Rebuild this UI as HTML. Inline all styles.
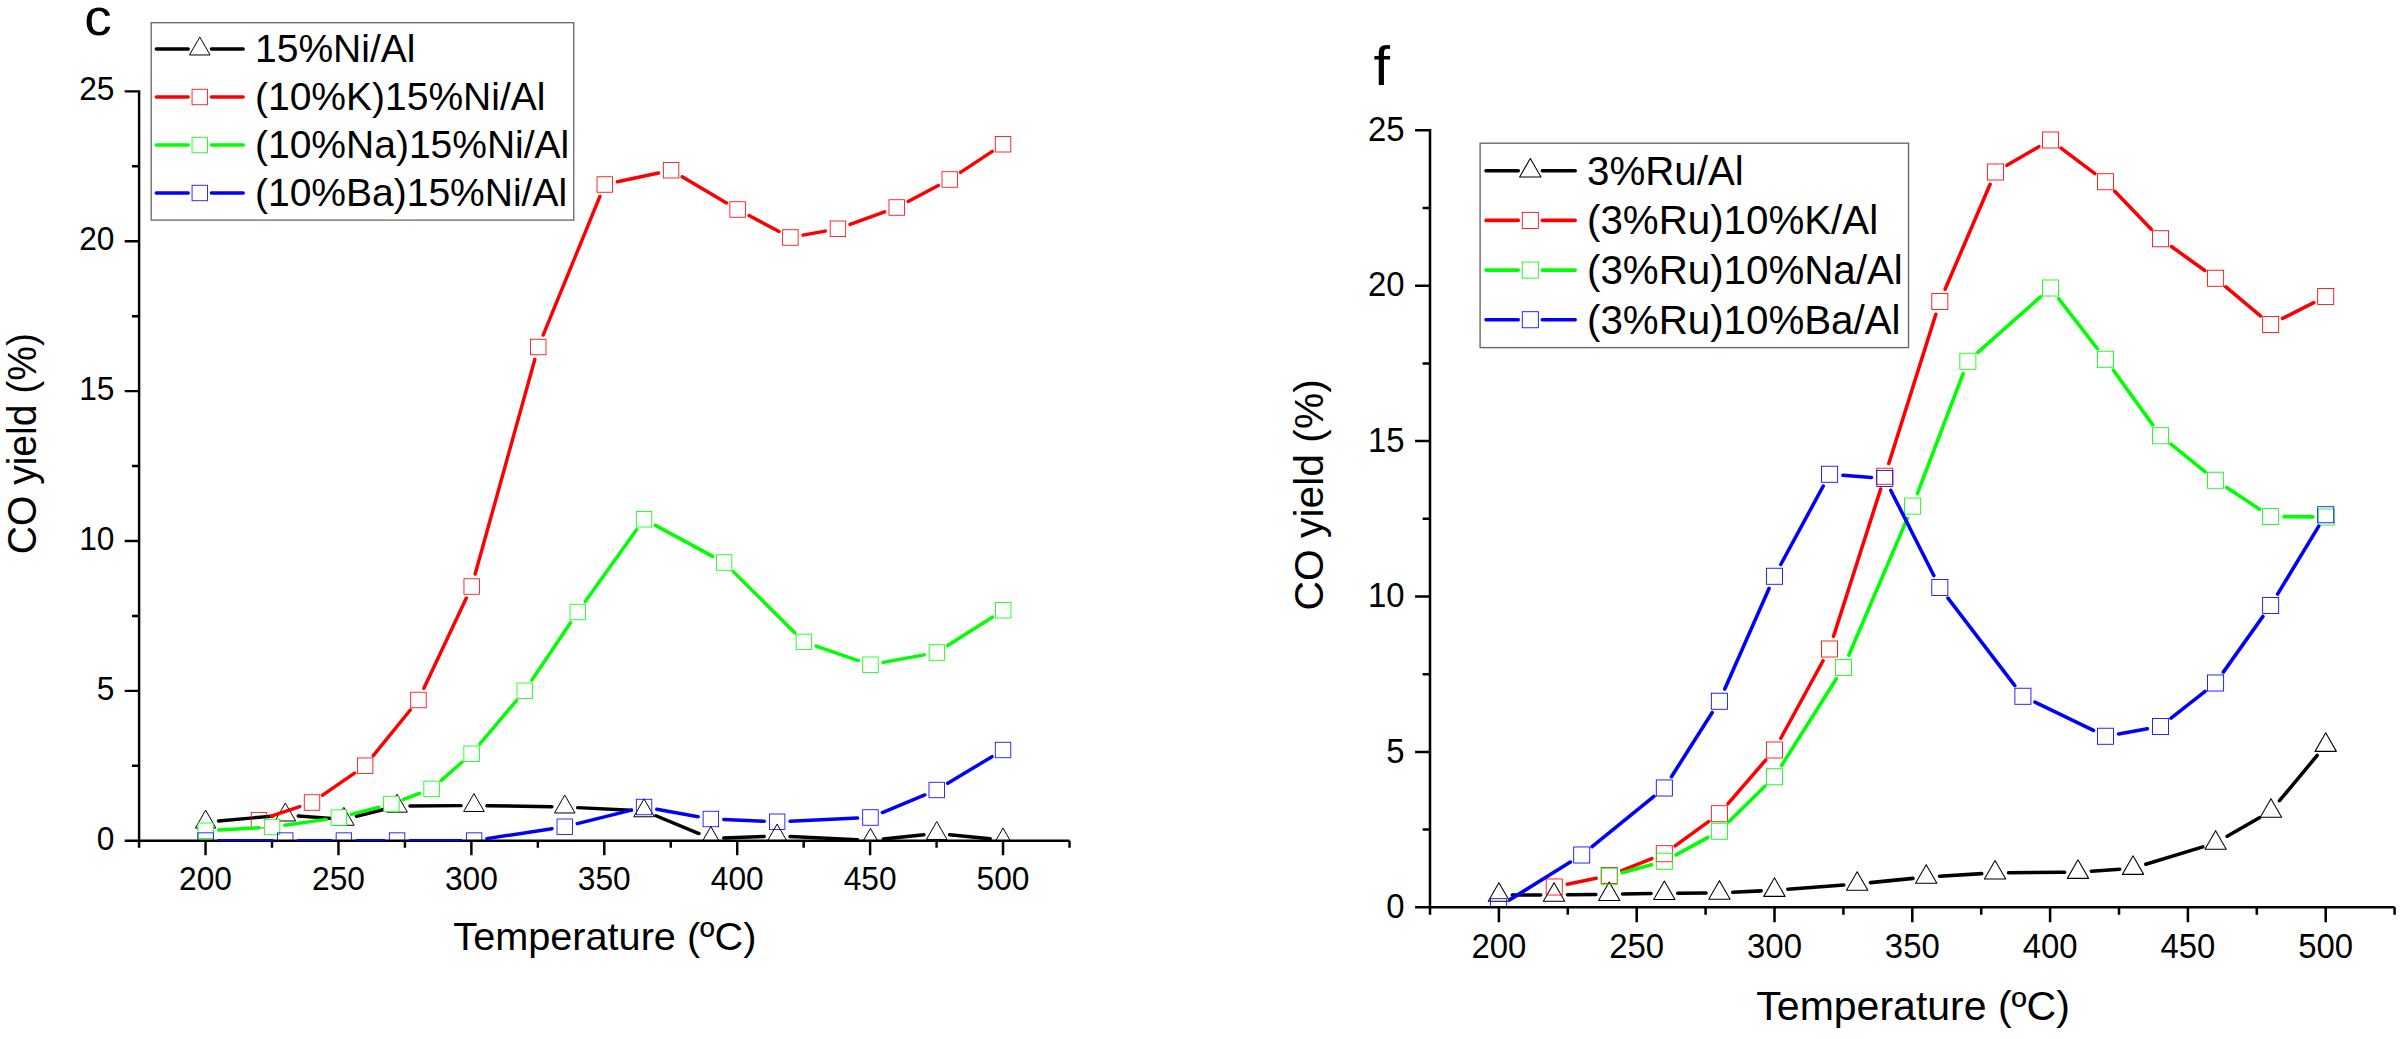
<!DOCTYPE html>
<html lang="en"><head><meta charset="utf-8"><title>CO yield vs temperature</title>
<style>html,body{margin:0;padding:0;background:#fff;}body{width:2402px;height:1039px;overflow:hidden;}svg{display:block;font-family:"Liberation Sans", Arial, sans-serif;}</style></head><body>
<svg width="2402" height="1039" viewBox="0 0 2402 1039">
<rect width="2402" height="1039" fill="#fff"/>
<g id="chartL">
<clipPath id="clipL"><rect x="139.09" y="0" width="970.4" height="841.05"/></clipPath>
<path d="M139.09 90.13V847.85M124.69 840.75H1069.5M124.69 690.87H139.09M124.69 540.99H139.09M124.69 391.11H139.09M124.69 241.23H139.09M124.69 91.35H139.09M131.99 765.81H139.09M131.99 615.93H139.09M131.99 466.05H139.09M131.99 316.17H139.09M131.99 166.29H139.09M205.55 840.75V855.15M338.47 840.75V855.15M471.38 840.75V855.15M604.3 840.75V855.15M737.21 840.75V855.15M870.12 840.75V855.15M1003.04 840.75V855.15M272.01 840.75V847.85M404.92 840.75V847.85M537.84 840.75V847.85M670.75 840.75V847.85M803.67 840.75V847.85M936.58 840.75V847.85M1069.5 840.75V847.85" fill="none" stroke="#000" stroke-width="2.45" stroke-linecap="butt"/>
<g font-size="31.7" fill="#000">
<text transform="translate(205.55 889.7) scale(1 1.05)" text-anchor="middle">200</text>
<text transform="translate(338.47 889.7) scale(1 1.05)" text-anchor="middle">250</text>
<text transform="translate(471.38 889.7) scale(1 1.05)" text-anchor="middle">300</text>
<text transform="translate(604.3 889.7) scale(1 1.05)" text-anchor="middle">350</text>
<text transform="translate(737.21 889.7) scale(1 1.05)" text-anchor="middle">400</text>
<text transform="translate(870.12 889.7) scale(1 1.05)" text-anchor="middle">450</text>
<text transform="translate(1003.04 889.7) scale(1 1.05)" text-anchor="middle">500</text>
<text transform="translate(114.49 849.75) scale(1 1.05)" text-anchor="end">0</text>
<text transform="translate(114.49 699.87) scale(1 1.05)" text-anchor="end">5</text>
<text transform="translate(114.49 549.99) scale(1 1.05)" text-anchor="end">10</text>
<text transform="translate(114.49 400.11) scale(1 1.05)" text-anchor="end">15</text>
<text transform="translate(114.49 250.23) scale(1 1.05)" text-anchor="end">20</text>
<text transform="translate(114.49 100.35) scale(1 1.05)" text-anchor="end">25</text>
</g>
<text x="604.9" y="950.3" font-size="39.65" text-anchor="middle">Temperature (ºC)</text>
<text transform="translate(36 443.6) rotate(-90) scale(0.96 1)" font-size="40.7" text-anchor="middle">CO yield (%)</text>
<text transform="translate(84.3 35.15) scale(1.06 1)" font-size="52">c</text>
<g clip-path="url(#clipL)">
<path d="M218.5 820.96L272.5 816.14M298.21 815.95L331.02 818.35M356.41 816.21L384.54 809.29M409.96 806.08L461.06 805.62M486.86 805.71L551.87 806.79M577.65 807.62L631.18 810.18M655.98 815.74L698.94 833.56M723.74 838.01L764.25 836.49M790.03 836.59L857.56 839.71M883.28 838.98L923.91 834.82M949.58 834.76L990.19 838.74" fill="none" stroke="#000" stroke-width="3.45" stroke-linecap="round"/>
<g><path d="M195.35 828.07L205.65 810.17L215.95 828.07Z" fill="none" stroke="#000" stroke-width="1" stroke-linejoin="round"/><path d="M275.05 820.97L285.35 803.07L295.65 820.97Z" fill="none" stroke="#000" stroke-width="1" stroke-linejoin="round"/><path d="M333.58 825.27L343.88 807.37L354.18 825.27Z" fill="none" stroke="#000" stroke-width="1" stroke-linejoin="round"/><path d="M386.77 812.17L397.07 794.27L407.37 812.17Z" fill="none" stroke="#000" stroke-width="1" stroke-linejoin="round"/><path d="M463.66 811.47L473.96 793.57L484.26 811.47Z" fill="none" stroke="#000" stroke-width="1" stroke-linejoin="round"/><path d="M554.47 812.97L564.77 795.07L575.07 812.97Z" fill="none" stroke="#000" stroke-width="1" stroke-linejoin="round"/><path d="M633.76 816.77L644.06 798.87L654.36 816.77Z" fill="none" stroke="#000" stroke-width="1" stroke-linejoin="round"/><path d="M700.55 844.47L710.85 826.57L721.15 844.47Z" fill="none" stroke="#000" stroke-width="1" stroke-linejoin="round"/><path d="M766.84 841.97L777.14 824.07L787.44 841.97Z" fill="none" stroke="#000" stroke-width="1" stroke-linejoin="round"/><path d="M860.15 846.27L870.45 828.37L880.75 846.27Z" fill="none" stroke="#000" stroke-width="1" stroke-linejoin="round"/><path d="M926.44 839.47L936.74 821.57L947.04 839.47Z" fill="none" stroke="#000" stroke-width="1" stroke-linejoin="round"/><path d="M992.73 845.97L1003.03 828.07L1013.33 845.97Z" fill="none" stroke="#000" stroke-width="1" stroke-linejoin="round"/></g>
<path d="M271.23 816.04L299.77 806.56M322.62 795.15L354.54 773.05M373.27 755.68L410.3 710.02M423.91 688.32L466.23 598.18M475.16 574.07L534.8 359.43M543.14 335.06L599.9 196.44M617.4 181.79L658.47 172.96M682.19 176.8L726.51 202.95M749.02 215.55L779.01 231.45M803.09 235.16L825.24 231.09M850.06 224.36L884.58 211.89M908.12 201.48L938.34 185.52M960.51 172.38L992.27 151.37" fill="none" stroke="#f00" stroke-width="3.45" stroke-linecap="round"/>
<g><rect x="251.23" y="812.35" width="15.5" height="15.5" fill="none" stroke="#f00" stroke-width="0.82"/><rect x="304.26" y="794.75" width="15.5" height="15.5" fill="none" stroke="#f00" stroke-width="0.82"/><rect x="357.4" y="757.95" width="15.5" height="15.5" fill="none" stroke="#f00" stroke-width="0.82"/><rect x="410.68" y="692.25" width="15.5" height="15.5" fill="none" stroke="#f00" stroke-width="0.82"/><rect x="463.96" y="578.75" width="15.5" height="15.5" fill="none" stroke="#f00" stroke-width="0.82"/><rect x="530.5" y="339.25" width="15.5" height="15.5" fill="none" stroke="#f00" stroke-width="0.82"/><rect x="597.04" y="176.75" width="15.5" height="15.5" fill="none" stroke="#f00" stroke-width="0.82"/><rect x="663.33" y="162.5" width="15.5" height="15.5" fill="none" stroke="#f00" stroke-width="0.82"/><rect x="729.87" y="201.75" width="15.5" height="15.5" fill="none" stroke="#f00" stroke-width="0.82"/><rect x="782.65" y="229.75" width="15.5" height="15.5" fill="none" stroke="#f00" stroke-width="0.82"/><rect x="830.18" y="221" width="15.5" height="15.5" fill="none" stroke="#f00" stroke-width="0.82"/><rect x="888.97" y="199.75" width="15.5" height="15.5" fill="none" stroke="#f00" stroke-width="0.82"/><rect x="942" y="171.75" width="15.5" height="15.5" fill="none" stroke="#f00" stroke-width="0.82"/><rect x="995.28" y="136.5" width="15.5" height="15.5" fill="none" stroke="#f00" stroke-width="0.82"/></g>
<path d="M218.68 830.02L259.21 827.73M284.86 825.2L326.11 819.4M351.37 814.37L378.92 807.23M403.49 799.46L419.51 793.44M441.28 780.39L461.92 762.26M479.93 743.89L516.43 700.61M531.95 680.05L570.57 622.7M585.27 601.5L636.56 529.75M655.41 525.38L712.76 556.37M733.26 571.6L794.77 632.8M816.11 646.09L858.25 660.56M883.14 662.41L924.2 654.84M947.77 645.57L992.35 617.18" fill="none" stroke="#0f0" stroke-width="3.45" stroke-linecap="round"/>
<g><rect x="198.05" y="823" width="15.5" height="15.5" fill="#fff" stroke="#0f0" stroke-width="0.82"/><rect x="264.34" y="819.25" width="15.5" height="15.5" fill="#fff" stroke="#0f0" stroke-width="0.82"/><rect x="331.13" y="809.85" width="15.5" height="15.5" fill="#fff" stroke="#0f0" stroke-width="0.82"/><rect x="383.66" y="796.25" width="15.5" height="15.5" fill="#fff" stroke="#0f0" stroke-width="0.82"/><rect x="423.84" y="781.15" width="15.5" height="15.5" fill="#fff" stroke="#0f0" stroke-width="0.82"/><rect x="463.86" y="746" width="15.5" height="15.5" fill="#fff" stroke="#0f0" stroke-width="0.82"/><rect x="516.99" y="683" width="15.5" height="15.5" fill="#fff" stroke="#0f0" stroke-width="0.82"/><rect x="570.02" y="604.25" width="15.5" height="15.5" fill="#fff" stroke="#0f0" stroke-width="0.82"/><rect x="636.31" y="511.5" width="15.5" height="15.5" fill="#fff" stroke="#0f0" stroke-width="0.82"/><rect x="716.36" y="554.75" width="15.5" height="15.5" fill="#fff" stroke="#0f0" stroke-width="0.82"/><rect x="796.16" y="634.15" width="15.5" height="15.5" fill="#fff" stroke="#0f0" stroke-width="0.82"/><rect x="862.7" y="657" width="15.5" height="15.5" fill="#fff" stroke="#0f0" stroke-width="0.82"/><rect x="929.14" y="644.75" width="15.5" height="15.5" fill="#fff" stroke="#0f0" stroke-width="0.82"/><rect x="995.48" y="602.5" width="15.5" height="15.5" fill="#fff" stroke="#0f0" stroke-width="0.82"/></g>
<path d="M218.45 840.6L272.3 840.6M298.1 840.6L330.98 840.6M356.78 840.6L384.17 840.6M409.97 840.6L461.21 840.6M486.86 838.65L552.01 828.7M577.28 823.63L631.55 810.12M656.76 809.28L698.16 816.72M723.74 819.53L764.26 821.22M790.03 821.16L857.56 818.09M882.37 812.56L924.82 794.94M947.79 783.34L991.98 756.66" fill="none" stroke="#00f" stroke-width="3.45" stroke-linecap="round"/>
<g><rect x="197.8" y="832.85" width="15.5" height="15.5" fill="none" stroke="#00f" stroke-width="0.82"/><rect x="277.45" y="832.85" width="15.5" height="15.5" fill="none" stroke="#00f" stroke-width="0.82"/><rect x="336.13" y="832.85" width="15.5" height="15.5" fill="none" stroke="#00f" stroke-width="0.82"/><rect x="389.32" y="832.85" width="15.5" height="15.5" fill="none" stroke="#00f" stroke-width="0.82"/><rect x="466.36" y="832.85" width="15.5" height="15.5" fill="none" stroke="#00f" stroke-width="0.82"/><rect x="557.02" y="819" width="15.5" height="15.5" fill="none" stroke="#00f" stroke-width="0.82"/><rect x="636.31" y="799.25" width="15.5" height="15.5" fill="none" stroke="#00f" stroke-width="0.82"/><rect x="703.1" y="811.25" width="15.5" height="15.5" fill="none" stroke="#00f" stroke-width="0.82"/><rect x="769.39" y="814" width="15.5" height="15.5" fill="none" stroke="#00f" stroke-width="0.82"/><rect x="862.7" y="809.75" width="15.5" height="15.5" fill="none" stroke="#00f" stroke-width="0.82"/><rect x="928.99" y="782.25" width="15.5" height="15.5" fill="none" stroke="#00f" stroke-width="0.82"/><rect x="995.28" y="742.25" width="15.5" height="15.5" fill="none" stroke="#00f" stroke-width="0.82"/></g>
</g>
<rect x="151.2" y="22.7" width="422.6" height="197.4" fill="#fff" stroke="#666" stroke-width="1.3"/>
<path d="M156.3 49H188.2M211.4 49H243.2" fill="none" stroke="#000" stroke-width="3.45" stroke-linecap="round"/>
<path d="M189.5 54.97L199.8 37.07L210.1 54.97Z" fill="none" stroke="#000" stroke-width="1" stroke-linejoin="round"/>
<text x="255" y="62.2" font-size="39">15%Ni/Al</text>
<path d="M156.3 97H188.2M211.4 97H243.2" fill="none" stroke="#f00" stroke-width="3.45" stroke-linecap="round"/>
<rect x="192.05" y="89.25" width="15.5" height="15.5" fill="none" stroke="#f00" stroke-width="0.82"/>
<text x="255" y="110.2" font-size="39">(10%K)15%Ni/Al</text>
<path d="M156.3 145H188.2M211.4 145H243.2" fill="none" stroke="#0f0" stroke-width="3.45" stroke-linecap="round"/>
<rect x="192.05" y="137.25" width="15.5" height="15.5" fill="none" stroke="#0f0" stroke-width="0.82"/>
<text x="255" y="158.2" font-size="39">(10%Na)15%Ni/Al</text>
<path d="M156.3 193H188.2M211.4 193H243.2" fill="none" stroke="#00f" stroke-width="3.45" stroke-linecap="round"/>
<rect x="192.05" y="185.25" width="15.5" height="15.5" fill="none" stroke="#00f" stroke-width="0.82"/>
<text x="255" y="206.2" font-size="39">(10%Ba)15%Ni/Al</text>
</g>
<g id="chartR">
<clipPath id="clipR"><rect x="1430" y="0" width="1004.6" height="907.6"/></clipPath>
<path d="M1430 129.03V914.66M1415.08 907.3H2394.6M1415.08 751.9H1430M1415.08 596.5H1430M1415.08 441.1H1430M1415.08 285.7H1430M1415.08 130.3H1430M1422.64 829.6H1430M1422.64 674.2H1430M1422.64 518.8H1430M1422.64 363.4H1430M1422.64 208H1430M1498.9 907.3V922.22M1636.7 907.3V922.22M1774.5 907.3V922.22M1912.3 907.3V922.22M2050.1 907.3V922.22M2187.9 907.3V922.22M2325.7 907.3V922.22M1567.8 907.3V914.66M1705.6 907.3V914.66M1843.4 907.3V914.66M1981.2 907.3V914.66M2119 907.3V914.66M2256.8 907.3V914.66M2394.6 907.3V914.66" fill="none" stroke="#000" stroke-width="2.54" stroke-linecap="butt"/>
<g font-size="32.9" fill="#000">
<text transform="translate(1498.9 958.3) scale(1 1.05)" text-anchor="middle">200</text>
<text transform="translate(1636.7 958.3) scale(1 1.05)" text-anchor="middle">250</text>
<text transform="translate(1774.5 958.3) scale(1 1.05)" text-anchor="middle">300</text>
<text transform="translate(1912.3 958.3) scale(1 1.05)" text-anchor="middle">350</text>
<text transform="translate(2050.1 958.3) scale(1 1.05)" text-anchor="middle">400</text>
<text transform="translate(2187.9 958.3) scale(1 1.05)" text-anchor="middle">450</text>
<text transform="translate(2325.7 958.3) scale(1 1.05)" text-anchor="middle">500</text>
<text transform="translate(1404.5 917.9) scale(1 1.05)" text-anchor="end">0</text>
<text transform="translate(1404.5 762.5) scale(1 1.05)" text-anchor="end">5</text>
<text transform="translate(1404.5 607.1) scale(1 1.05)" text-anchor="end">10</text>
<text transform="translate(1404.5 451.7) scale(1 1.05)" text-anchor="end">15</text>
<text transform="translate(1404.5 296.3) scale(1 1.05)" text-anchor="end">20</text>
<text transform="translate(1404.5 140.9) scale(1 1.05)" text-anchor="end">25</text>
</g>
<text x="1913.1" y="1020.3" font-size="41" text-anchor="middle">Temperature (ºC)</text>
<text transform="translate(1323.4 494.8) rotate(-90) scale(1 1)" font-size="40.8" text-anchor="middle">CO yield (%)</text>
<text transform="translate(1373.5 84.5) scale(1.08 1)" font-size="55">f</text>
<g clip-path="url(#clipR)">
<path d="M1512.26 895L1540.69 895M1567.42 894.83L1595.84 894.47M1622.57 894.06L1651 893.54M1677.73 893.23L1706.05 893.07M1732.76 892.32L1761.12 890.88M1787.8 889.2L1843.82 885M1870.45 882.65L1912.92 878.35M1939.56 876.19L1981.75 873.61M2008.45 872.7L2064.6 872.3M2091.3 871.23L2119.69 869.17M2145.8 864.3L2202.82 846.9M2227.17 836.31L2259.39 817.69M2279.5 800.73L2317.16 755.47" fill="none" stroke="#000" stroke-width="3.57" stroke-linecap="round"/>
<g><path d="M1488.23 901.18L1498.9 882.64L1509.57 901.18Z" fill="none" stroke="#000" stroke-width="1.04" stroke-linejoin="round"/><path d="M1543.38 901.18L1554.05 882.64L1564.72 901.18Z" fill="none" stroke="#000" stroke-width="1.04" stroke-linejoin="round"/><path d="M1598.54 900.48L1609.21 881.94L1619.88 900.48Z" fill="none" stroke="#000" stroke-width="1.04" stroke-linejoin="round"/><path d="M1653.69 899.48L1664.36 880.94L1675.03 899.48Z" fill="none" stroke="#000" stroke-width="1.04" stroke-linejoin="round"/><path d="M1708.75 899.18L1719.42 880.64L1730.09 899.18Z" fill="none" stroke="#000" stroke-width="1.04" stroke-linejoin="round"/><path d="M1763.8 896.38L1774.47 877.84L1785.14 896.38Z" fill="none" stroke="#000" stroke-width="1.04" stroke-linejoin="round"/><path d="M1846.48 890.18L1857.15 871.64L1867.82 890.18Z" fill="none" stroke="#000" stroke-width="1.04" stroke-linejoin="round"/><path d="M1915.55 883.18L1926.22 864.64L1936.89 883.18Z" fill="none" stroke="#000" stroke-width="1.04" stroke-linejoin="round"/><path d="M1984.42 878.98L1995.09 860.44L2005.76 878.98Z" fill="none" stroke="#000" stroke-width="1.04" stroke-linejoin="round"/><path d="M2067.3 878.38L2077.97 859.84L2088.64 878.38Z" fill="none" stroke="#000" stroke-width="1.04" stroke-linejoin="round"/><path d="M2122.35 874.38L2133.02 855.84L2143.69 874.38Z" fill="none" stroke="#000" stroke-width="1.04" stroke-linejoin="round"/><path d="M2204.93 849.18L2215.6 830.64L2226.27 849.18Z" fill="none" stroke="#000" stroke-width="1.04" stroke-linejoin="round"/><path d="M2260.29 817.18L2270.96 798.64L2281.63 817.18Z" fill="none" stroke="#000" stroke-width="1.04" stroke-linejoin="round"/><path d="M2315.04 751.38L2325.71 732.84L2336.38 751.38Z" fill="none" stroke="#000" stroke-width="1.04" stroke-linejoin="round"/></g>
<path d="M1567.29 884.27L1596.18 878.23M1621.69 870.59L1651.88 858.66M1675.12 845.89L1708.55 821.61M1728.1 803.64L1765.68 760.11M1780.82 738.27L1823.08 660.73M1833.55 636.27L1880.7 488.98M1888.79 463.5L1935.82 314.25M1945.1 289.22L1990.12 184.28M2006.94 165.28L2038.89 146.72M2061.09 148.08L2094.85 173.67M2114.78 191.36L2151.26 229.14M2171.41 246.54L2204.74 270.46M2225.83 286.85L2260.42 315.9M2282.57 318.44L2313.8 302.56" fill="none" stroke="#f00" stroke-width="3.57" stroke-linecap="round"/>
<g><rect x="1546.18" y="878.97" width="16.06" height="16.06" fill="none" stroke="#f00" stroke-width="0.85"/><rect x="1601.23" y="867.47" width="16.06" height="16.06" fill="none" stroke="#f00" stroke-width="0.85"/><rect x="1656.28" y="845.72" width="16.06" height="16.06" fill="none" stroke="#f00" stroke-width="0.85"/><rect x="1711.34" y="805.72" width="16.06" height="16.06" fill="none" stroke="#f00" stroke-width="0.85"/><rect x="1766.39" y="741.97" width="16.06" height="16.06" fill="none" stroke="#f00" stroke-width="0.85"/><rect x="1821.44" y="640.97" width="16.06" height="16.06" fill="none" stroke="#f00" stroke-width="0.85"/><rect x="1876.75" y="468.22" width="16.06" height="16.06" fill="none" stroke="#f00" stroke-width="0.85"/><rect x="1931.8" y="293.47" width="16.06" height="16.06" fill="none" stroke="#f00" stroke-width="0.85"/><rect x="1987.36" y="163.97" width="16.06" height="16.06" fill="none" stroke="#f00" stroke-width="0.85"/><rect x="2042.41" y="131.97" width="16.06" height="16.06" fill="none" stroke="#f00" stroke-width="0.85"/><rect x="2097.47" y="173.72" width="16.06" height="16.06" fill="none" stroke="#f00" stroke-width="0.85"/><rect x="2152.52" y="230.72" width="16.06" height="16.06" fill="none" stroke="#f00" stroke-width="0.85"/><rect x="2207.57" y="270.22" width="16.06" height="16.06" fill="none" stroke="#f00" stroke-width="0.85"/><rect x="2262.63" y="316.47" width="16.06" height="16.06" fill="none" stroke="#f00" stroke-width="0.85"/><rect x="2317.68" y="288.47" width="16.06" height="16.06" fill="none" stroke="#f00" stroke-width="0.85"/></g>
<path d="M1622.15 872.74L1651.42 864.76M1676.05 854.86L1707.63 837.64M1728.86 821.85L1764.92 786.15M1781.57 765.46L1836.39 678.79M1848.8 655.21L1907.35 518.39M1917.37 493.61L1963.1 373.74M1977.86 352.38L2040.44 296.87M2058.61 298.58L2097.32 348.67M2113.3 370.1L2152.74 424.9M2170.94 444.15L2205.21 471.85M2226.76 487.6L2259.49 509.15M2284.02 516.62L2312.85 516.88" fill="none" stroke="#0f0" stroke-width="3.57" stroke-linecap="round"/>
<g><rect x="1601.23" y="868.22" width="16.06" height="16.06" fill="none" stroke="#0f0" stroke-width="0.85"/><rect x="1656.28" y="853.22" width="16.06" height="16.06" fill="none" stroke="#0f0" stroke-width="0.85"/><rect x="1711.34" y="823.22" width="16.06" height="16.06" fill="none" stroke="#0f0" stroke-width="0.85"/><rect x="1766.39" y="768.72" width="16.06" height="16.06" fill="none" stroke="#0f0" stroke-width="0.85"/><rect x="1835.51" y="659.47" width="16.06" height="16.06" fill="none" stroke="#0f0" stroke-width="0.85"/><rect x="1904.58" y="498.07" width="16.06" height="16.06" fill="none" stroke="#0f0" stroke-width="0.85"/><rect x="1959.83" y="353.22" width="16.06" height="16.06" fill="none" stroke="#0f0" stroke-width="0.85"/><rect x="2042.41" y="279.97" width="16.06" height="16.06" fill="none" stroke="#0f0" stroke-width="0.85"/><rect x="2097.47" y="351.22" width="16.06" height="16.06" fill="none" stroke="#0f0" stroke-width="0.85"/><rect x="2152.52" y="427.72" width="16.06" height="16.06" fill="none" stroke="#0f0" stroke-width="0.85"/><rect x="2207.57" y="472.22" width="16.06" height="16.06" fill="none" stroke="#0f0" stroke-width="0.85"/><rect x="2262.63" y="508.47" width="16.06" height="16.06" fill="none" stroke="#0f0" stroke-width="0.85"/><rect x="2318.18" y="508.97" width="16.06" height="16.06" fill="none" stroke="#0f0" stroke-width="0.85"/></g>
<path d="M1509.95 899.64L1570.38 862.06M1592.11 846.58L1653.93 796.42M1671.47 776.72L1712.2 712.53M1724.75 689.02L1769.03 588.48M1780.78 564.5L1823.26 486M1842.95 475.28L1871.45 477.47M1890.8 490.43L1933.81 575.57M1947.95 598.12L2014.8 685.63M2034.94 702.08L2093.47 730.42M2118.65 733.92L2147.39 728.83M2171.03 718.21L2205.12 691.29M2223.34 672.1L2262.92 616.4M2277.59 594.07L2318.78 526.18" fill="none" stroke="#00f" stroke-width="3.57" stroke-linecap="round"/>
<g><rect x="1490.57" y="898.67" width="16.06" height="16.06" fill="none" stroke="#00f" stroke-width="0.85"/><rect x="1573.7" y="846.97" width="16.06" height="16.06" fill="none" stroke="#00f" stroke-width="0.85"/><rect x="1656.28" y="779.97" width="16.06" height="16.06" fill="none" stroke="#00f" stroke-width="0.85"/><rect x="1711.34" y="693.22" width="16.06" height="16.06" fill="none" stroke="#00f" stroke-width="0.85"/><rect x="1766.39" y="568.22" width="16.06" height="16.06" fill="none" stroke="#00f" stroke-width="0.85"/><rect x="1821.6" y="466.22" width="16.06" height="16.06" fill="none" stroke="#00f" stroke-width="0.85"/><rect x="1876.75" y="470.47" width="16.06" height="16.06" fill="none" stroke="#00f" stroke-width="0.85"/><rect x="1931.8" y="579.47" width="16.06" height="16.06" fill="none" stroke="#00f" stroke-width="0.85"/><rect x="2014.88" y="688.22" width="16.06" height="16.06" fill="none" stroke="#00f" stroke-width="0.85"/><rect x="2097.47" y="728.22" width="16.06" height="16.06" fill="none" stroke="#00f" stroke-width="0.85"/><rect x="2152.52" y="718.47" width="16.06" height="16.06" fill="none" stroke="#00f" stroke-width="0.85"/><rect x="2207.57" y="674.97" width="16.06" height="16.06" fill="none" stroke="#00f" stroke-width="0.85"/><rect x="2262.63" y="597.47" width="16.06" height="16.06" fill="none" stroke="#00f" stroke-width="0.85"/><rect x="2317.68" y="506.72" width="16.06" height="16.06" fill="none" stroke="#00f" stroke-width="0.85"/></g>
</g>
<rect x="1480.1" y="143.2" width="428.4" height="204.4" fill="#fff" stroke="#666" stroke-width="1.35"/>
<path d="M1486 170.75H1518.28M1542.32 170.75H1575.2" fill="none" stroke="#000" stroke-width="3.57" stroke-linecap="round"/>
<path d="M1519.63 176.93L1530.3 158.39L1540.97 176.93Z" fill="none" stroke="#000" stroke-width="1.04" stroke-linejoin="round"/>
<text x="1587" y="184.5" font-size="40.3">3%Ru/Al</text>
<path d="M1486 220.4H1518.28M1542.32 220.4H1575.2" fill="none" stroke="#f00" stroke-width="3.57" stroke-linecap="round"/>
<rect x="1522.27" y="212.37" width="16.06" height="16.06" fill="none" stroke="#f00" stroke-width="0.85"/>
<text x="1587" y="234.15" font-size="40.3">(3%Ru)10%K/Al</text>
<path d="M1486 270.1H1518.28M1542.32 270.1H1575.2" fill="none" stroke="#0f0" stroke-width="3.57" stroke-linecap="round"/>
<rect x="1522.27" y="262.07" width="16.06" height="16.06" fill="none" stroke="#0f0" stroke-width="0.85"/>
<text x="1587" y="283.85" font-size="40.3">(3%Ru)10%Na/Al</text>
<path d="M1486 319.75H1518.28M1542.32 319.75H1575.2" fill="none" stroke="#00f" stroke-width="3.57" stroke-linecap="round"/>
<rect x="1522.27" y="311.72" width="16.06" height="16.06" fill="none" stroke="#00f" stroke-width="0.85"/>
<text x="1587" y="333.5" font-size="40.3">(3%Ru)10%Ba/Al</text>
</g>
</svg></body></html>
